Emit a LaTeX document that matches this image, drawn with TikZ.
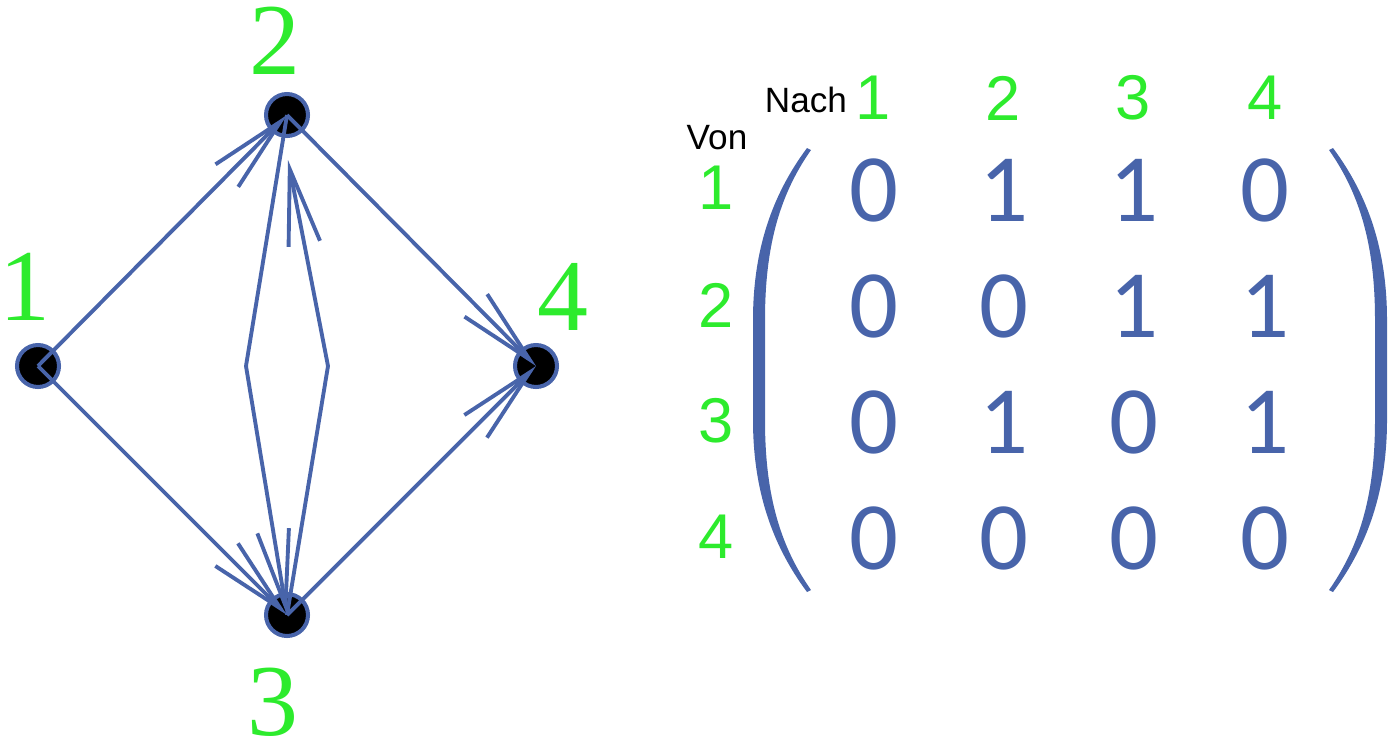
\documentclass[tikz,border=0pt]{standalone}
\usepackage{fontspec}
\setmainfont{Liberation Serif}
\setsansfont{Liberation Sans}
\newfontfamily\matfont{Carlito}
\usetikzlibrary{arrows.meta}
\definecolor{edgeblue}{RGB}{72,100,170}
\definecolor{labelgreen}{RGB}{45,235,45}
\tikzset{%
  vertex/.style = {circle,draw=edgeblue,fill=black,line width=2.3pt,
        minimum size=0.84cm,inner sep=0pt},
  link/.style = {draw=edgeblue,line width=2.2pt,
        -{Straight Barb[length=1.52cm,width=0.64cm]}},
  vlabel/.style = {text=labelgreen,inner sep=0pt,
        font=\fontsize{58}{60}\selectfont},
  colhead/.style = {text=labelgreen,inner sep=0pt,
        font=\sffamily\fontsize{36}{38}\selectfont},
  entry/.style = {text=edgeblue,inner sep=0pt,
        font=\matfont\fontsize{55}{57}\selectfont},
  word/.style = {inner sep=0pt,font=\sffamily\fontsize{20}{22}\selectfont}
}
\begin{document}
\begin{tikzpicture}[x=0.02cm,y=-0.02cm]
                \useasboundingbox (0,0) rectangle (1393,745);
                % graph
                \node[vertex] (n1) at (38,366) {};
                \node[vertex] (n2) at (287,115) {};
                \node[vertex] (n3) at (287,615) {};
                \node[vertex] (n4) at (536,366) {};
                \node[vlabel] (l1) at (25,287) {1};
                \node[vlabel] (l2) at (275,41) {2};
                \node[vlabel] (l3) at (273,702) {3};
                \node[vlabel] (l4) at (563,297) {4};
                \coordinate (bl) at (246,366);
                \coordinate (br) at (328,366);
                \coordinate (tr) at (288,160);
                \draw[link] (n1.center) -- (n2.center);
                \draw[link] (n1.center) -- (n3.center);
                \draw[link] (n2.center) -- (n4.center);
                \draw[link] (n3.center) -- (n4.center);
                \draw[link] (n2.center) -- (bl) -- (n3.center);
                \draw[link] (n3.center) -- (br) -- (tr);
                % matrix
                \node[word] (nach) at (806,100) {Nach};
                \node[word] (von) at (717,138) {Von};
                \foreach \j/\xx in {1/873,2/1003,3/1133,4/1265}
                    \node[colhead] (c\j) at (\xx,98) {\j};
                \foreach \i/\yy in {1/188,2/305,3/421,4/537}
                    \node[colhead] (r\i) at (716,\yy) {\i};
                \foreach \a/\b/\c/\d [count=\i, evaluate=\i as \yy using 74+116*\i] in
                        {0/1/1/0,0/0/1/1,0/1/0/1,0/0/0/0} {
                    \node[entry] (e\i1) at (874,\yy) {\a};
                    \node[entry] (e\i2) at (1004,\yy) {\b};
                    \node[entry] (e\i3) at (1134,\yy) {\c};
                    \node[entry] (e\i4) at (1265,\yy) {\d};
                }
                \fill[edgeblue] (807,148) .. controls (772,195) and (753,250) .. (753,320)
                    -- (753,420) .. controls (753,490) and (772,545) .. (807,592)
                    -- (811,590) .. controls (778,543) and (765,490) .. (765,420)
                    -- (765,320) .. controls (765,250) and (778,197) .. (811,150) -- cycle;
                \fill[edgeblue] (1333,148) .. controls (1368,195) and (1387,250) .. (1387,320)
                    -- (1387,420) .. controls (1387,490) and (1368,545) .. (1333,592)
                    -- (1329,590) .. controls (1362,543) and (1375,490) .. (1375,420)
                    -- (1375,320) .. controls (1375,250) and (1362,197) .. (1329,150) -- cycle;
            \end{tikzpicture}
\end{document}
